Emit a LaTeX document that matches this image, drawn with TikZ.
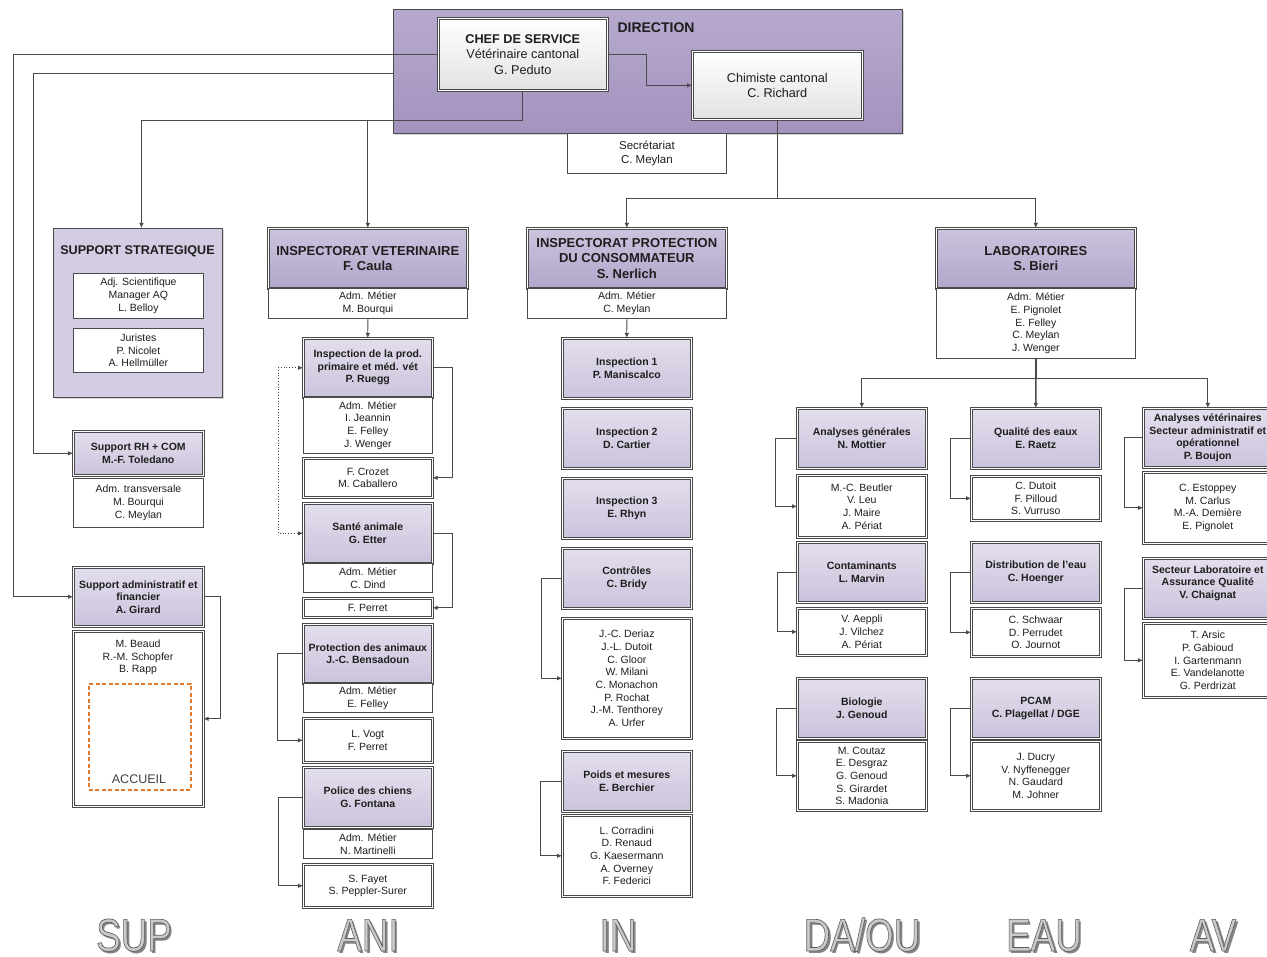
\documentclass[tikz,border=0pt]{standalone}
\usepackage{fontspec}
\setmainfont{Liberation Sans}
\usetikzlibrary{arrows.meta,shadows,calc}
\newcommand\myfs[2]{\fontsize{#1}{#2}\selectfont}
\definecolor{txt}{HTML}{1E1E1E}
\definecolor{ln}{HTML}{4A4A4A}
\definecolor{dirT}{HTML}{B7A9CE}
\definecolor{dirB}{HTML}{A393BE}
\definecolor{mhT}{HTML}{CCC3DE}
\definecolor{mhB}{HTML}{B2A6CA}
\definecolor{shT}{HTML}{E3DEED}
\definecolor{shB}{HTML}{CBC3DC}
\definecolor{ssF}{HTML}{D3CCE2}
\definecolor{chB}{HTML}{E2E2E2}
\definecolor{accO}{HTML}{E07A2E}
\definecolor{lblf}{HTML}{CACACA}
\definecolor{lblsh}{HTML}{858585}
\tikzset{
  base/.style={anchor=north west, inner sep=0pt, align=center, text=txt, font=\myfs{10.5}{12.7}},
  wh/.style 2 args={minimum width=#1pt, minimum height=#2pt},
  shad/.style={drop shadow={shadow xshift=1.4pt, shadow yshift=-1.4pt, opacity=0.3}},
  dbl/.style={draw=ln, line width=0.6pt, double=white, double distance=1.4pt},
  sgl/.style={draw=ln, line width=0.8pt},
  subh/.style={base, dbl, shad, top color=shT, bottom color=shB, font=\bfseries\myfs{10.5}{12.5}},
  mainh/.style={base, dbl, shad, top color=mhT, bottom color=mhB, font=\bfseries\myfs{13}{15.5}},
  lst/.style={base, sgl, fill=white},
  dlst/.style={base, dbl, shad, fill=white},
  topb/.style={base, dbl, shad, top color=white, bottom color=chB, font=\myfs{12.7}{15.5}},
  conn/.style={draw=ln, line width=0.8pt},
  arr/.style={conn, -{Latex[length=5pt,width=4.5pt]}},
  bigl/.style={anchor=base, inner sep=0pt, font=\myfs{46}{50}},
}
\newcommand\biglabel[3]{%
  \node[bigl, text=lblsh] (#1-s) at (#2+2.5,953) {\scalebox{0.8}[1]{#3}};
  \node[bigl, text=lblf] (#1) at (#2,951) {\special{pdf:literal direct 0.36 0.36 0.36 RG 2 Tr 0.7 w}\scalebox{0.8}[1]{#3}\special{pdf:literal direct 0 Tr}};}
\begin{document}
\begin{tikzpicture}[x=1pt,y=-1pt]
\useasboundingbox[fill=white] (0,0) rectangle (1267,957);

% ---------- Direction ----------
\node[base, draw=ln, line width=0.8pt, top color=dirT, bottom color=dirB, shad, wh={509}{124}] (dir) at (393,9) {};
\node[font=\bfseries\myfs{14}{16}, text=txt, inner sep=0pt] (dirl) at (656,28) {DIRECTION};
\node[lst, wh={159}{40}, font=\myfs{11.5}{14}] (sec) at (567,133) {Secrétariat\\C. Meylan};
\node[topb, wh={169}{72}] (chef) at (438,18) {\textbf{CHEF DE SERVICE}\\Vétérinaire cantonal\\G. Peduto};
\node[topb, wh={170}{68}] (chim) at (692,51) {Chimiste cantonal\\C. Richard};

% ---------- Support ----------
\node[base, draw=ln, line width=0.8pt, fill=ssF, shad, wh={169}{169}] (ss) at (53,228) {};
\node[font=\bfseries\myfs{12.6}{15}, text=txt, inner sep=0pt] (sst) at (137.5,251) {SUPPORT STRATEGIQUE};
\node[lst, wh={130}{45}] (ss1) at (73,273) {Adj. Scientifique\\Manager AQ\\L. Belloy};
\node[lst, wh={130}{44}] (ss2) at (73,328) {Juristes\\P. Nicolet\\A. Hellmüller};
\node[subh, wh={130}{44}] (srh) at (73,431) {Support RH + COM\\M.-F. Toledano};
\node[lst, wh={130}{49}] (srhl) at (73,478) {Adm. transversale\\M. Bourqui\\C. Meylan};
\node[subh, wh={130}{59}] (sadm) at (73,567) {Support administratif et\\financier\\A. Girard};
\node[dlst, wh={130}{175}] (sadml) at (73,631) {};
\node[base, anchor=north] (sadmt) at (138,639.5) {M. Beaud\\R.-M. Schopfer\\B. Rapp};
\node[base, draw=accO, line width=1.8pt, dash pattern=on 4pt off 2.5pt, wh={102}{106}] (acc) at (88,683) {};
\node[font=\myfs{12.5}{14}, text=txt!85, inner sep=0pt] (accl) at (139,779) {ACCUEIL};

% ---------- ANI ----------
\node[mainh, wh={199}{60}] (iv) at (268,228) {INSPECTORAT VETERINAIRE\\F. Caula};
\node[lst, wh={199}{30}] (ivl) at (268,288) {Adm. Métier\\M. Bourqui};
\node[subh, wh={129}{59}] (ip) at (303,338) {Inspection de la prod.\\primaire et méd. vét\\P. Ruegg};
\node[lst, wh={129}{56}] (ipl) at (303,397) {Adm. Métier\\I. Jeannin\\E. Felley\\J. Wenger};
\node[dlst, wh={129}{39}] (cro) at (303,458) {F. Crozet\\M. Caballero};
\node[subh, wh={129}{60}] (sa) at (303,503) {Santé animale\\G. Etter};
\node[lst, wh={129}{29}] (sal) at (303,563) {Adm. Métier\\C. Dind};
\node[dlst, wh={129}{19}] (per) at (303,598) {F. Perret};
\node[subh, wh={129}{59}] (pa) at (303,624) {Protection des animaux\\J.-C. Bensadoun};
\node[lst, wh={129}{29}] (pal) at (303,683) {Adm. Métier\\E. Felley};
\node[dlst, wh={129}{44}] (vogt) at (303,718) {L. Vogt\\F. Perret};
\node[subh, wh={129}{60}] (pc) at (303,767) {Police des chiens\\G. Fontana};
\node[lst, wh={129}{29}] (pcl) at (303,829) {Adm. Métier\\N. Martinelli};
\node[dlst, wh={129}{43}] (fay) at (303,864) {S. Fayet\\S. Peppler-Surer};

% ---------- IN ----------
\node[mainh, wh={199}{60}] (ipc) at (527,228) {INSPECTORAT PROTECTION\\DU CONSOMMATEUR\\S. Nerlich};
\node[lst, wh={199}{30}] (ipcl) at (527,288) {Adm. Métier\\C. Meylan};
\node[subh, wh={129}{60}] (in1) at (562,338) {Inspection 1\\P. Maniscalco};
\node[subh, wh={129}{60}] (in2) at (562,408) {Inspection 2\\D. Cartier};
\node[subh, wh={129}{60}] (in3) at (562,478) {Inspection 3\\E. Rhyn};
\node[subh, wh={129}{60}] (ctl) at (562,548) {Contrôles\\C. Bridy};
\node[dlst, wh={129}{120}] (ctll) at (562,618) {J.-C. Deriaz\\J.-L. Dutoit\\C. Gloor\\W. Milani\\C. Monachon\\P. Rochat\\J.-M. Tenthorey\\A. Urfer};
\node[subh, wh={129}{60}] (pm) at (562,751) {Poids et mesures\\E. Berchier};
\node[dlst, wh={129}{81}] (pml) at (562,815) {L. Corradini\\D. Renaud\\G. Kaesermann\\A. Overney\\F. Federici};

% ---------- LAB ----------
\node[mainh, wh={199}{60}] (lab) at (936,228) {LABORATOIRES\\S. Bieri};
\node[lst, wh={199}{70}] (labl) at (936,288) {Adm. Métier\\E. Pignolet\\E. Felley\\C. Meylan\\J. Wenger};

% DA/OU
\node[subh, wh={129}{60}] (ag) at (797,408) {Analyses générales\\N. Mottier};
\node[dlst, wh={129}{62}] (agl) at (797,475) {M.-C. Beutler\\V. Leu\\J. Maire\\A. Périat};
\node[subh, wh={129}{60}] (cm) at (797,542) {Contaminants\\L. Marvin};
\node[dlst, wh={129}{47}] (cml) at (797,608) {V. Aeppli\\J. Vilchez\\A. Périat};
\node[subh, wh={129}{60}] (bio) at (797,678) {Biologie\\J. Genoud};
\node[dlst, wh={129}{69}] (biol) at (797,741) {M. Coutaz\\E. Desgraz\\G. Genoud\\S. Girardet\\S. Madonia};

% EAU
\node[subh, wh={129}{60}] (qe) at (971,408) {Qualité des eaux\\E. Raetz};
\node[dlst, wh={129}{44}] (qel) at (971,476) {C. Dutoit\\F. Pilloud\\S. Vurruso};
\node[subh, wh={129}{60}] (de) at (971,542) {Distribution de l'eau\\C. Hoenger};
\node[dlst, wh={129}{48}] (del) at (971,608) {C. Schwaar\\D. Perrudet\\O. Journot};
\node[subh, wh={129}{60}] (pcam) at (971,678) {PCAM\\C. Plagellat / DGE};
\node[dlst, wh={129}{69}] (pcaml) at (971,741) {J. Ducry\\V. Nyffenegger\\N. Gaudard\\M. Johner};

% AV
\node[subh, wh={129}{59}] (av1) at (1143,408) {Analyses vétérinaires\\Secteur administratif et\\opérationnel\\P. Boujon};
\node[dlst, wh={129}{71}] (av1l) at (1143,472) {C. Estoppey\\M. Carlus\\M.-A. Demière\\E. Pignolet};
\node[subh, wh={129}{60}] (av2) at (1143,558) {Secteur Laboratoire et\\Assurance Qualité\\V. Chaignat\\\mbox{}};
\node[dlst, wh={129}{74}] (av2l) at (1143,623) {T. Arsic\\P. Gabioud\\I. Gartenmann\\E. Vandelanotte\\G. Perdrizat};

% ---------- Connectors ----------
\draw[arr] (chef.west) -| ($(sadm.west)+(-60,0)$) -- (sadm.west);
\draw[arr] ($(dir.west)+(0,2)$) -| ($(srh.west)+(-40,0)$) -- (srh.west);
\coordinate (j1) at ($(chef.south)+(0,30)$);
\draw[arr] (chef.south) -- (j1) -| ($(ss.north)+(3.5,0)$);
\draw[arr] (j1) -| (iv.north);
\draw[arr] (chef.east) -- ++(39,0) |- (chim.west);
\coordinate (j2) at ($(chim.south)+(0,79)$);
\draw[arr] (chim.south) -- (j2) -| (ipc.north);
\draw[arr] (j2) -| (lab.north);
\draw[arr] (sadm.east) -- ++(17,0) |- (sadml.east);

\draw[arr] (ivl.south) -- (ip.north);
\draw[conn, dotted, {Latex[length=5pt,width=4.5pt]}-{Latex[length=5pt,width=4.5pt]}] (ip.west) -- ++(-25,0) |- (sa.west);
\draw[arr] (ip.east) -- ++(20,0) |- (cro.east);
\draw[arr] (sa.east) -- ++(20,0) |- (per.east);
\draw[arr] (pa.west) -- ++(-26,0) |- (vogt.west);
\draw[arr] (pc.west) -- ++(-25,0) |- (fay.west);

\draw[arr] (ipcl.south) -- (in1.north);
\draw[arr] (ctl.west) -- ++(-21,0) |- (ctll.west);
\draw[arr] (pm.west) -- ++(-22,0) |- (pml.west);

\coordinate (j3) at ($(labl.south)+(0,20)$);
\draw[conn, line width=1.4pt] (labl.south) -- (j3);
\draw[arr] (j3) -| (ag.north);
\draw[arr, line width=1.4pt] (j3) -- (qe.north);
\draw[arr] (j3) -| (av1.north);
\draw[arr] (ag.west) -- ++(-22,0) |- (agl.west);
\draw[arr] (cm.west) -- ++(-20,0) |- (cml.west);
\draw[arr] (bio.west) -- ++(-21,0) |- (biol.west);
\draw[arr] (qe.west) -- ++(-21,0) |- (qel.west);
\draw[arr] (de.west) -- ++(-21,0) |- (del.west);
\draw[arr] (pcam.west) -- ++(-21,0) |- (pcaml.west);
\draw[arr] (av1.west) -- ++(-19,0) |- (av1l.west);
\draw[arr] (av2.west) -- ++(-19,0) |- (av2l.west);

% ---------- Bottom labels ----------
\biglabel{lsup}{134}{SUP}
\biglabel{lani}{368}{ANI}
\biglabel{lin}{618}{IN}
\biglabel{ldaou}{862}{DA/OU}
\biglabel{leau}{1044}{EAU}
\biglabel{lav}{1213}{AV}
\end{tikzpicture}
\end{document}
